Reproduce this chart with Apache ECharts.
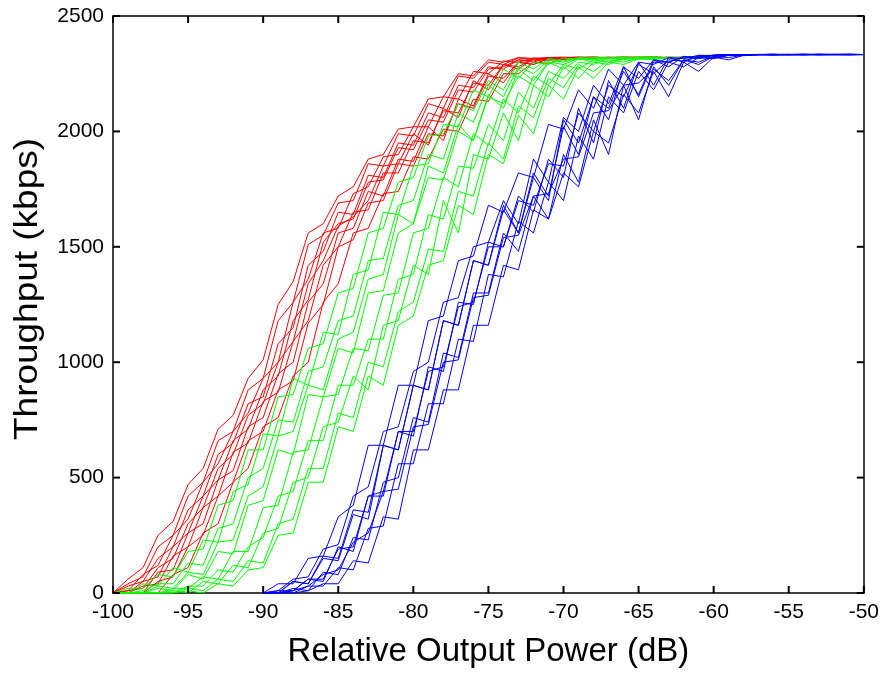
<!DOCTYPE html>
<html>
<head>
<meta charset="utf-8">
<script src="https://cdn.jsdelivr.net/npm/echarts@6/dist/echarts.min.js"></script>
<style>
html, body { margin: 0; background: #fff; }
#chart { width: 882px; height: 673px; }
</style>
</head>
<body>
<div id="chart"></div>
<script>
// throughput (kbps) sampled every 1 dB, starting at the given power
var redStart = -100;
var greenStart = -100;
var blueStart = -90;

var red1 = [0,60,110,250,310,470,540,710,770,930,1010,1250,1350,1560,1600,1720,1760,1880,1900,2010,2020,2140,2150,2250,2240,2310,2300,2320,2316,2320,2318,2322,2320,2319,2321,2320,2318,2322,2320,2319,2320];
var red2 = [0,40,70,200,250,420,480,660,700,880,930,1180,1260,1510,1550,1690,1700,1860,1850,1990,1980,2120,2100,2240,2230,2300,2290,2318,2312,2320,2322,2318,2320,2321,2319,2320,2322,2318,2320,2321,2320];
var red3 = [0,10,80,120,250,320,480,560,700,780,930,1000,1260,1360,1560,1580,1730,1760,1890,1900,2020,2020,2150,2140,2260,2250,2305,2300,2318,2315,2320,2322,2318,2320,2321,2320,2319,2320,2322,2320,2320];
var red4 = [0,0,50,70,200,260,420,490,660,710,880,940,1180,1270,1520,1600,1620,1780,1790,1930,1920,2050,2040,2180,2170,2270,2280,2310,2300,2320,2318,2320,2322,2318,2320,2321,2320,2319,2320,2322,2320];
var red5 = [0,10,20,110,150,300,370,540,600,770,820,1000,1090,1340,1440,1590,1630,1700,1850,1860,1990,1940,2100,2060,2220,2180,2290,2270,2315,2305,2320,2318,2320,2321,2319,2320,2322,2320,2318,2320,2320];
var red6 = [0,0,30,40,160,200,370,420,610,650,830,870,1090,1180,1420,1500,1650,1660,1820,1820,1960,1950,2090,2080,2210,2200,2290,2280,2315,2310,2320,2318,2321,2320,2322,2319,2320,2318,2320,2321,2320];
var red7 = [0,0,0,90,100,260,300,490,530,720,760,950,1000,1260,1340,1560,1580,1740,1720,1880,1870,2020,1960,2140,2110,2250,2210,2300,2290,2316,2312,2320,2318,2320,2321,2320,2322,2319,2320,2320,2321];
var red8 = [0,0,0,50,70,200,250,420,480,660,700,880,920,1170,1250,1500,1530,1690,1700,1860,1850,1990,1980,2120,2100,2240,2230,2300,2290,2316,2312,2320,2318,2321,2320,2319,2322,2320,2318,2320,2320];
var red9 = [0,0,0,0,80,110,260,300,480,540,720,760,940,1000,1260,1340,1560,1580,1730,1740,1890,1880,2010,2000,2140,2130,2250,2250,2300,2295,2316,2315,2320,2318,2320,2322,2320,2319,2320,2321,2320];
var red10 = [0,30,50,150,200,360,420,600,650,820,850,1080,1150,1420,1480,1650,1640,1810,1800,1950,1940,2080,2060,2200,2190,2280,2270,2310,2305,2320,2316,2320,2322,2318,2320,2321,2319,2320,2320,2322,2320];

var green1 = [0,20,20,80,70,180,190,380,400,620,620,850,860,1060,1080,1300,1320,1560,1580,1780,1800,1980,1990,2120,2090,2220,2180,2300,2270,2315,2305,2320,2318,2320,2322,2318,2320,2321,2319,2320,2320];
var green2 = [0,0,40,30,110,90,230,220,440,470,690,680,930,900,1130,1120,1380,1400,1650,1640,1850,1860,2030,2020,2180,2150,2270,2230,2300,2290,2318,2312,2320,2318,2321,2320,2322,2319,2320,2318,2320];
var green3 = [0,0,10,40,40,130,120,280,300,500,540,750,740,960,980,1180,1200,1440,1450,1680,1700,1900,1880,2080,2040,2200,2150,2280,2250,2310,2300,2318,2315,2320,2318,2322,2320,2319,2320,2321,2320];
var green4 = [0,0,0,30,20,90,80,220,230,420,460,680,700,900,880,1100,1130,1360,1380,1640,1600,1850,1820,2030,1960,2160,2100,2270,2220,2300,2290,2316,2310,2320,2318,2320,2322,2319,2320,2321,2320];
var green5 = [0,0,0,20,10,80,60,180,170,380,400,620,600,860,850,1060,1040,1300,1310,1560,1600,1800,1790,2000,1960,2150,2120,2240,2200,2300,2270,2315,2300,2320,2316,2320,2321,2319,2320,2322,2320];
var green6 = [0,0,0,0,20,20,70,60,180,180,370,380,610,620,850,860,1060,1050,1290,1300,1560,1580,1800,1760,1990,1940,2140,2080,2240,2200,2290,2270,2310,2300,2318,2316,2320,2318,2320,2321,2320];
var green7 = [0,0,0,0,0,30,30,100,90,200,240,420,440,660,660,900,900,1100,1100,1360,1380,1640,1620,1850,1840,2030,1960,2170,2100,2260,2230,2300,2290,2316,2310,2320,2318,2321,2320,2319,2320];
var green8 = [0,0,0,0,10,0,50,40,120,110,260,280,480,500,720,740,940,880,1160,1180,1420,1380,1700,1560,1900,1880,2080,1960,2200,2150,2280,2230,2300,2290,2316,2312,2320,2318,2320,2321,2320];
var green9 = [0,0,0,0,0,20,10,60,50,140,130,300,320,540,540,780,760,1000,980,1220,1260,1490,1480,1740,1720,1950,1880,2110,2060,2230,2190,2290,2260,2310,2300,2318,2315,2320,2318,2321,2320];
var green10 = [0,0,0,0,0,10,0,40,30,100,110,250,260,480,480,720,700,940,900,1160,1200,1420,1440,1680,1640,1900,1860,2070,1990,2200,2140,2280,2230,2300,2290,2315,2310,2320,2318,2320,2321];

var blue1 = [0,40,40,150,160,330,380,640,640,900,900,1180,1200,1440,1460,1680,1650,1820,1800,2030,2010,2180,2100,2270,2200,2300,2290,2320,2315,2330,2328,2333,2330,2334,2332,2333,2335,2331,2333,2334,2333];
var blue2 = [0,10,60,70,190,210,420,460,700,720,960,1000,1260,1280,1500,1520,1700,1600,1880,1780,2060,2000,2200,2120,2280,2230,2310,2300,2325,2320,2330,2333,2331,2333,2334,2332,2333,2335,2333,2331,2333];
var blue3 = [0,0,50,40,150,140,340,320,640,620,900,880,1180,1160,1440,1420,1680,1560,1820,1720,2020,1900,2150,2100,2260,2160,2310,2280,2325,2315,2330,2333,2330,2333,2334,2331,2333,2334,2332,2333,2333];
var blue4 = [0,0,10,60,60,190,200,420,440,700,700,960,980,1240,1260,1500,1500,1700,1680,1860,1850,2080,2000,2200,2150,2290,2250,2310,2305,2325,2318,2330,2333,2331,2333,2334,2333,2332,2333,2335,2333];
var blue5 = [0,0,50,40,160,150,360,350,640,620,900,880,1180,1160,1440,1420,1660,1560,1800,1700,2050,1950,2150,2050,2280,2150,2300,2300,2322,2318,2330,2333,2331,2333,2334,2332,2333,2333,2335,2333,2333];
var blue6 = [0,10,10,30,80,100,220,260,440,450,720,730,1000,1010,1280,1290,1540,1550,1720,1730,1880,1890,2080,2090,2200,2210,2270,2220,2310,2300,2326,2330,2333,2332,2333,2334,2331,2333,2333,2332,2333];
var blue7 = [0,0,10,60,50,200,180,420,420,700,680,980,960,1260,1250,1520,1500,1720,1650,1880,1800,2100,1950,2220,2100,2300,2200,2320,2300,2328,2330,2333,2331,2333,2334,2333,2332,2333,2333,2334,2333];
var blue8 = [0,0,20,10,90,80,240,230,480,500,760,740,1040,1020,1300,1300,1560,1480,1720,1620,1900,1780,2050,1900,2200,2050,2280,2200,2310,2290,2325,2320,2330,2333,2331,2333,2334,2333,2332,2333,2333];
var blue9 = [0,0,0,30,30,110,100,280,290,560,560,820,820,1100,1090,1380,1370,1610,1560,1780,1700,1980,1880,2150,2080,2260,2180,2300,2280,2320,2315,2330,2328,2333,2331,2333,2334,2332,2333,2333,2333];
var blue10 = [0,0,0,10,40,40,140,130,330,320,620,620,880,880,1160,1160,1420,1400,1660,1620,1820,1760,2000,1950,2160,2080,2260,2150,2300,2260,2322,2310,2330,2333,2331,2333,2332,2334,2333,2333,2333];

var xTicks = [-100, -95, -90, -85, -80, -75, -70, -65, -60, -55, -50];
var yTicks = [0, 500, 1000, 1500, 2000, 2500];

var redRuns = [red1, red2, red3, red4, red5, red6, red7, red8, red9, red10];
var greenRuns = [green1, green2, green3, green4, green5, green6, green7, green8, green9, green10];
var blueRuns = [blue1, blue2, blue3, blue4, blue5, blue6, blue7, blue8, blue9, blue10];

var chart = echarts.init(document.getElementById('chart'));
var font = 'Liberation Sans, Arial, Helvetica, sans-serif';
var xMin = xTicks[0], xMax = xTicks[xTicks.length - 1];
var yMin = yTicks[0], yMax = yTicks[yTicks.length - 1];
var tickLen = 7;

function pairs(ys, start) {
  return ys.map(function (y, i) { return [start + i, y]; });
}

var series = [];
function addRuns(runs, start, color) {
  runs.forEach(function (ys) {
    series.push({
      type: 'line',
      data: pairs(ys, start),
      showSymbol: false,
      symbol: 'none',
      lineStyle: { color: color, width: 1 },
      itemStyle: { color: color },
      emphasis: { disabled: true },
      silent: true
    });
  });
}
addRuns(redRuns, redStart, '#ff0000');
addRuns(greenRuns, greenStart, '#00ff00');
addRuns(blueRuns, blueStart, '#0000ff');

// inward ticks on all four sides of the box
function tickLine(x1, y1, x2, y2) {
  return { type: 'line', shape: { x1: x1, y1: y1, x2: x2, y2: y2 },
           style: { stroke: '#000', lineWidth: 2 } };
}
series.push({
  type: 'custom',
  silent: true,
  clip: false,
  z: 5,
  data: xTicks.map(function (v) { return [v, yMin]; }),
  renderItem: function (params, api) {
    var lo = api.coord([api.value(0), yMin]);
    var hi = api.coord([api.value(0), yMax]);
    return { type: 'group', children: [
      tickLine(lo[0], lo[1], lo[0], lo[1] - tickLen),
      tickLine(hi[0], hi[1], hi[0], hi[1] + tickLen)
    ] };
  }
});
series.push({
  type: 'custom',
  silent: true,
  clip: false,
  z: 5,
  data: yTicks.map(function (v) { return [xMin, v]; }),
  renderItem: function (params, api) {
    var lo = api.coord([xMin, api.value(1)]);
    var hi = api.coord([xMax, api.value(1)]);
    return { type: 'group', children: [
      tickLine(lo[0], lo[1], lo[0] + tickLen, lo[1]),
      tickLine(hi[0], hi[1], hi[0] - tickLen, hi[1])
    ] };
  }
});

function boxAxis(pos, min, max, withLabels, extra) {
  var ax = {
    type: 'value',
    position: pos,
    min: min,
    max: max,
    interval: pos === 'bottom' || pos === 'top' ? 5 : 500,
    axisLine: { show: true, onZero: false, lineStyle: { color: '#000', width: 1.5 } },
    axisTick: { show: false },
    axisLabel: {
      show: withLabels, color: '#000', fontSize: 21, fontFamily: font, margin: 9,
      formatter: function (v) { return String(v); }
    },
    splitLine: { show: false }
  };
  return Object.assign(ax, extra || {});
}

var option = {
  animation: false,
  backgroundColor: '#fff',
  grid: { left: 113, right: 15, top: 16, bottom: 74 },
  xAxis: [
    boxAxis('bottom', xMin, xMax, true, {
      name: 'Relative Output Power (dB)',
      nameLocation: 'middle',
      nameGap: 42,
      nameTextStyle: { color: '#000', fontSize: 33, fontFamily: font }
    }),
    boxAxis('top', xMin, xMax, false)
  ],
  yAxis: [
    boxAxis('left', yMin, yMax, true),
    boxAxis('right', yMin, yMax, false)
  ],
  graphic: [{
    type: 'text',
    x: 28,
    y: 289,
    rotation: Math.PI / 2,
    scaleX: 1.12,
    style: {
      text: 'Throughput (kbps)',
      font: '33px ' + font,
      fill: '#000',
      align: 'center',
      verticalAlign: 'middle'
    }
  }],
  series: series
};

chart.setOption(option);
</script>
</body>
</html>
